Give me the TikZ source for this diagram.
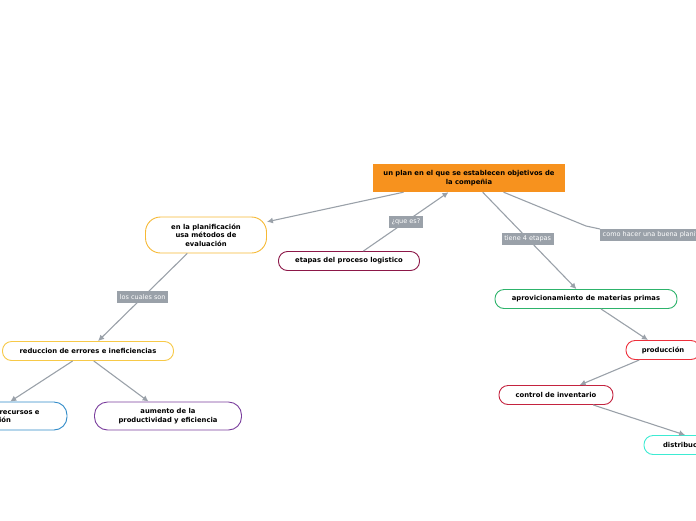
\documentclass[tikz,border=0pt]{standalone}
\usepackage{fontspec}
\setmainfont{DejaVu Sans}
\usetikzlibrary{arrows.meta}
\definecolor{rootcol}{HTML}{F7921E}
\definecolor{linkcol}{HTML}{9AA1A9}
\definecolor{tagcol}{HTML}{9AA1A9}
\definecolor{plancol}{HTML}{F6B935}
\definecolor{etapacol}{HTML}{8C1748}
\definecolor{aprovcol}{HTML}{2DB36B}
\definecolor{prodcol}{HTML}{EE2F3B}
\definecolor{contcol}{HTML}{C4233F}
\definecolor{distcol}{HTML}{3DEBD3}
\definecolor{redcol}{HTML}{F7C948}
\definecolor{optcol}{HTML}{2F8AC8}
\definecolor{aumcol}{HTML}{7A3E9D}

\begin{document}
\begin{tikzpicture}[x=1pt,y=-1pt,every text node part/.style={align=center},
  box/.style={draw,fill=white,rounded corners=9pt,line width=0.9pt,inner sep=1pt,
    minimum height=19pt,font=\fontsize{6.8}{8.5}\selectfont\bfseries},
  bigbox/.style={box,rounded corners=13pt,minimum height=28pt},
  tag/.style={fill=tagcol,text=white,inner sep=2.5pt,minimum height=12pt,
    font=\fontsize{6.5}{7}\selectfont},
  conn/.style={draw=linkcol,line width=1.1pt},
  link/.style={conn,-{Latex[length=6pt,width=6pt]}}]
\useasboundingbox (0,0) rectangle (696,520);
\clip (0,0) rectangle (696,520);

\node[fill=rootcol,minimum width=192pt,minimum height=28pt,inner sep=1pt,
  font=\fontsize{6.8}{8.5}\selectfont\bfseries] (root) at (469,178)
  {un plan en el que se establecen objetivos de\\la compeñia};
\node[bigbox,draw=plancol,minimum width=121pt,minimum height=36pt,rounded corners=15pt] (plan) at (206,235)
  {en la planificación\\usa métodos de\\evaluación};
\node[box,draw=etapacol,minimum width=141pt] (etapas) at (349,261) {etapas del proceso logistico};
\node[box,draw=aprovcol,minimum width=182pt] (aprov) at (586,299) {aprovicionamiento de materias primas};
\node[box,draw=prodcol,minimum width=74pt] (prod) at (663,350) {producción};
\node[box,draw=contcol,minimum width=114pt] (cont) at (556,395) {control de inventario};
\node[box,draw=distcol,minimum width=84pt] (dist) at (686,445) {distribución};
\node[box,draw=redcol,minimum width=171pt] (reduc) at (88,351) {reduccion de errores e ineficiencias};
\node[bigbox,draw=optcol,minimum width=158pt] (optim) at (-12,416) {optimización de recursos e\\información};
\node[bigbox,draw=aumcol,minimum width=147pt] (aum) at (168,416) {aumento de la\\productividad y eficiencia};
\coordinate (bend) at (586,226);

\draw[link] (root) -- (plan);
\draw[link] (etapas) -- node[tag,pos=0.5] (queEs) {¿que es?} (root);
\draw[link] (root) -- node[tag,pos=0.48] (tiene) {tiene 4 etapas} (aprov);
\draw[conn] (root) -- (bend) -- (600,229);
\node[tag,anchor=west] (como) at (600,235) {como hacer una buena planificación};
\draw[link] (plan) -- node[tag,pos=0.5] (cuales) {los cuales son} (reduc);
\draw[link] (reduc) -- (optim);
\draw[link] (reduc.-60) -- (aum);
\draw[link] (aprov) -- (prod);
\draw[link] (prod) -- (cont);
\draw[link] (cont.-15) -- (dist.95);
\end{tikzpicture}
\end{document}
